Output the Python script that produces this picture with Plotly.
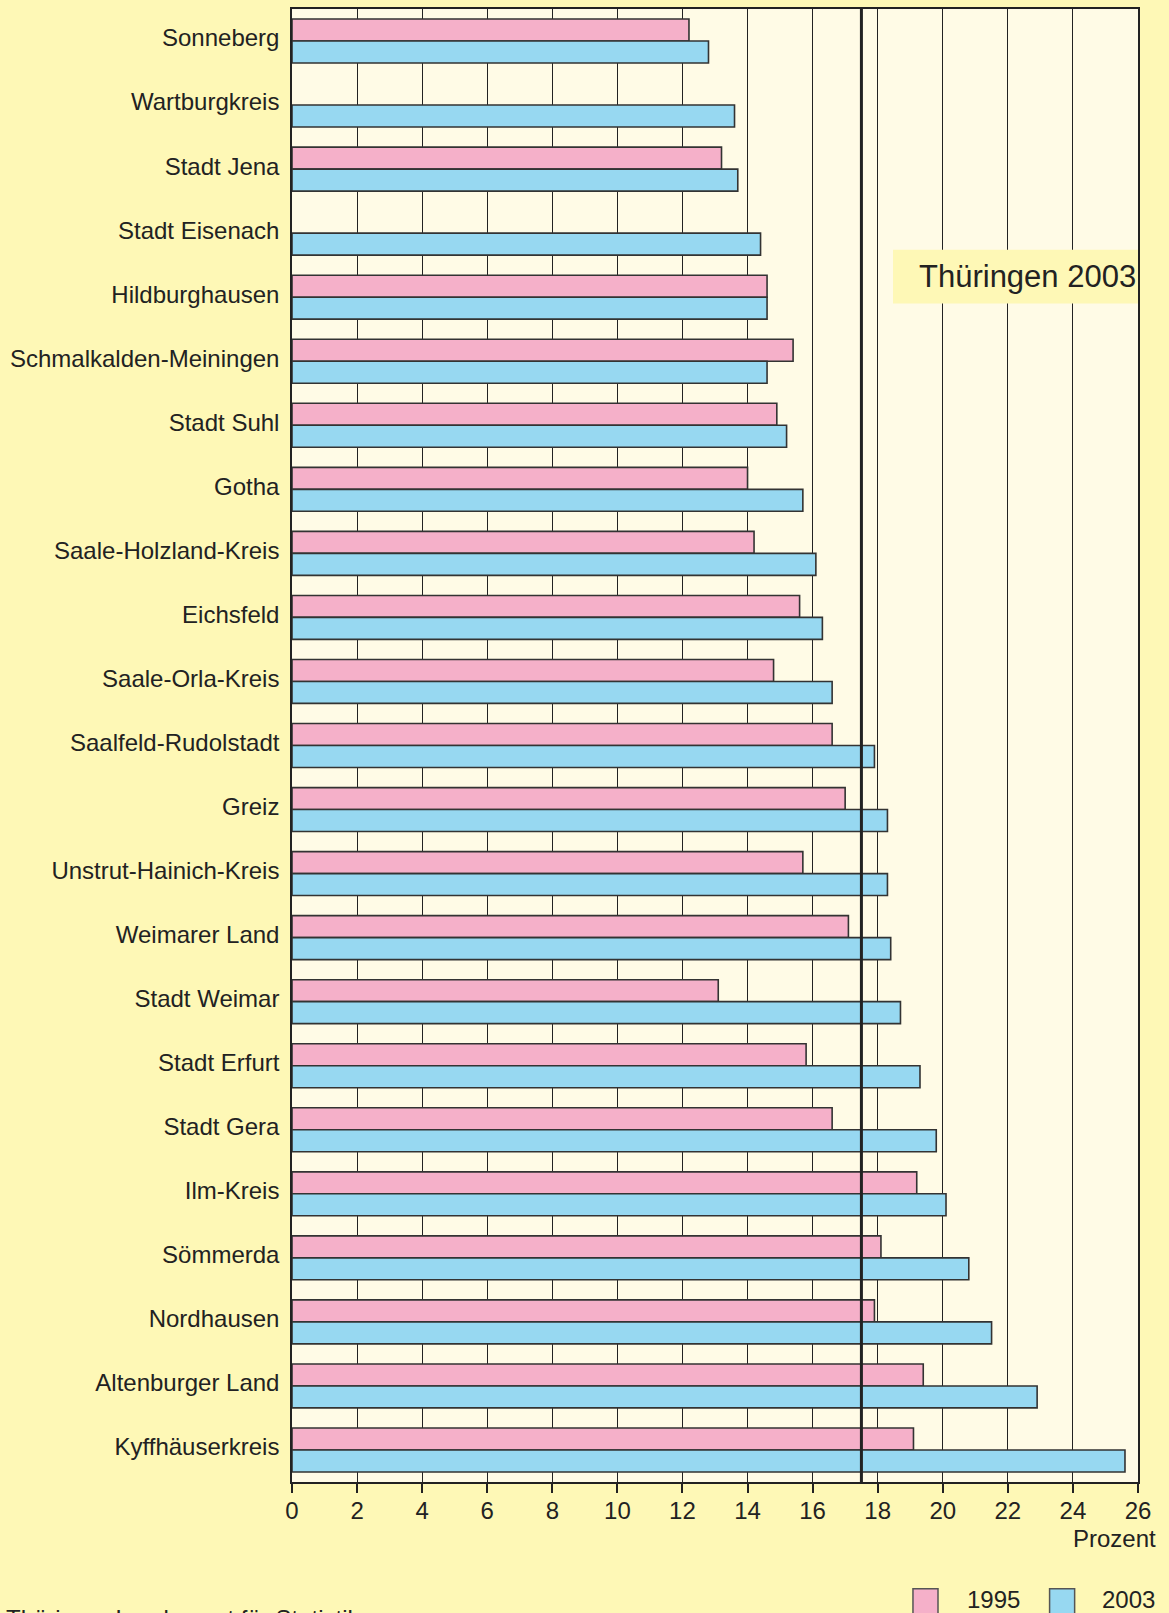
import plotly.graph_objects as go

regions = ["Sonneberg", "Wartburgkreis", "Stadt Jena", "Stadt Eisenach", "Hildburghausen",
           "Schmalkalden-Meiningen", "Stadt Suhl", "Gotha", "Saale-Holzland-Kreis", "Eichsfeld",
           "Saale-Orla-Kreis", "Saalfeld-Rudolstadt", "Greiz", "Unstrut-Hainich-Kreis",
           "Weimarer Land", "Stadt Weimar", "Stadt Erfurt", "Stadt Gera", "Ilm-Kreis",
           "Sömmerda", "Nordhausen", "Altenburger Land", "Kyffhäuserkreis"]
values_1995 = [12.2, None, 13.2, None, 14.6, 15.4, 14.9, 14.0, 14.2, 15.6, 14.8, 16.6, 17.0,
               15.7, 17.1, 13.1, 15.8, 16.6, 19.2, 18.1, 17.9, 19.4, 19.1]
values_2003 = [12.8, 13.6, 13.7, 14.4, 14.6, 14.6, 15.2, 15.7, 16.1, 16.3, 16.6, 17.9, 18.3,
               18.3, 18.4, 18.7, 19.3, 19.8, 20.1, 20.8, 21.5, 22.9, 25.6]
thueringen_avg = 17.5
x_ticks = list(range(0, 27, 2))
series_names = ["1995", "2003"]

PINK = "#f5b0c9"
BLUE = "#97d8f1"
PAPER = "#fef8b6"
PLOTBG = "#fffbe6"
INK = "#222222"
FONT = "Liberation Sans, Arial, sans-serif"

fig = go.Figure()
for name, vals, col in [(series_names[0], values_1995, PINK), (series_names[1], values_2003, BLUE)]:
    fig.add_trace(go.Bar(
        y=regions, x=vals, name=name, orientation="h",
        marker=dict(color=col, line=dict(color="#333333", width=1.6)),
        showlegend=False,
    ))

fig.update_layout(
    width=1169, height=1613,
    margin=dict(l=292, r=31, t=7, b=131),
    paper_bgcolor=PAPER, plot_bgcolor=PLOTBG,
    barmode="group", bargap=0.314, bargroupgap=0,
    font=dict(family=FONT, size=24, color=INK),
    xaxis=dict(range=[0, 26], tickvals=x_ticks, ticktext=[str(v) for v in x_ticks],
               showgrid=True, gridcolor=INK, gridwidth=1.3,
               showline=True, linecolor=INK, linewidth=2, mirror=True,
               ticks="outside", ticklen=9, tickwidth=1.5, tickcolor=INK,
               ticklabelstandoff=-3,
               tickfont=dict(size=24), zeroline=False, fixedrange=True),
    yaxis=dict(categoryorder="array", categoryarray=regions, autorange="reversed",
               showgrid=False, showline=True, linecolor=INK, linewidth=1.5, mirror=True,
               ticks="", ticklabelstandoff=6, ticklabelshift=3,
               tickfont=dict(size=24), fixedrange=True),
)

# Thüringen average reference line
fig.add_shape(type="line", xref="x", yref="paper", x0=thueringen_avg, x1=thueringen_avg,
              y0=0, y1=1, line=dict(color=INK, width=3), layer="above")

# Label box "Thüringen 2003"
fig.add_shape(type="rect", xref="paper", yref="paper", x0=0.7104, x1=1.0, y0=0.800, y1=0.8366,
              fillcolor=PAPER, line=dict(width=0), layer="above")
fig.add_annotation(xref="paper", yref="paper", x=1.0, y=0.8183, xanchor="right", yanchor="middle",
                   text="Thüringen 2003", showarrow=False, font=dict(size=31, color=INK))

# Axis title
fig.add_annotation(xref="paper", yref="paper", x=1.0236, y=-0.0383, xanchor="right", yanchor="middle",
                   text="Prozent", showarrow=False, font=dict(size=24, color=INK))

# Legend (custom)
legend_items = [(series_names[0], PINK, 0.7340, 0.7636, 0.7955),
                (series_names[1], BLUE, 0.8955, 0.9251, 0.9551)]
for name, col, sx0, sx1, tx in legend_items:
    fig.add_shape(type="rect", xref="paper", yref="paper", x0=sx0, x1=sx1, y0=-0.0930, y1=-0.0725,
                  fillcolor=col, line=dict(color="#555555", width=1.5))
    fig.add_annotation(xref="paper", yref="paper", x=tx, y=-0.0797, xanchor="left", yanchor="middle",
                       text=name, showarrow=False, font=dict(size=24, color=INK))

# Source
fig.add_annotation(xref="paper", yref="paper", x=-0.3404, y=-0.0926, xanchor="left", yanchor="middle",
                   text="Thüringer Landesamt für Statistik", showarrow=False,
                   font=dict(size=24, color=INK))

fig.write_html("out.html", config={"displayModeBar": False},
               post_script="document.body.style.margin='0';document.body.style.overflow='hidden';")
